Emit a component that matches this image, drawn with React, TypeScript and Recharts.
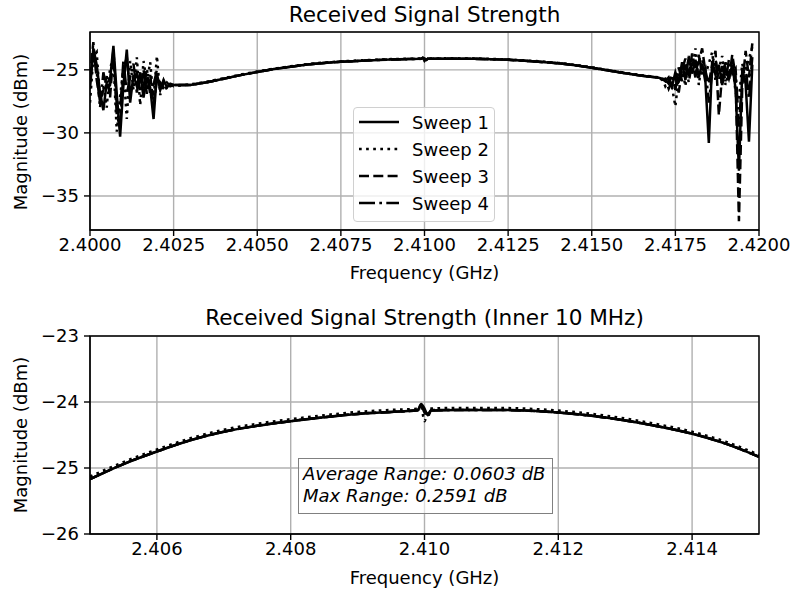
import { LineChart, Line, XAxis, YAxis, CartesianGrid, ReferenceArea } from "recharts";

// frequency grid (GHz): noisy band edges sampled finer than the smooth middle
const LEFT_FREQ = [
  2.4, 2.4001, 2.4002, 2.4003, 2.4004, 2.4005, 2.4006, 2.4007, 2.4008, 2.4009, 2.401, 2.4011, 2.4012,
  2.4013, 2.4014, 2.4015, 2.4016, 2.4017, 2.4018, 2.4019, 2.402, 2.4021, 2.4022, 2.4023, 2.4024, 2.4025,
];
const MID_A_FREQ = [
  2.403, 2.4035, 2.404, 2.4045, 2.405, 2.4055, 2.406, 2.4065, 2.407, 2.4075, 2.408, 2.4085, 2.409, 2.4095,
];
const GLITCH_FREQ = [2.4099, 2.40995, 2.41, 2.41005, 2.4101];
const MID_B_FREQ = [
  2.4105, 2.411, 2.4115, 2.412, 2.4125, 2.413, 2.4135, 2.414, 2.4145, 2.415, 2.4155, 2.416, 2.4165, 2.417,
];
const RIGHT_FREQ = [
  2.4171, 2.4172, 2.4173, 2.4174, 2.4175, 2.4176, 2.4177, 2.4178, 2.4179, 2.418, 2.4181, 2.4182, 2.4183,
  2.4184, 2.4185, 2.4186, 2.4187, 2.4188, 2.4189, 2.419, 2.4191, 2.4192, 2.4193, 2.4194, 2.4195, 2.4196,
  2.4197, 2.4198,
];

// magnitudes (dBm)
const LEFT_1 = [
  -26.5, -23.3, -24.6, -26.8, -28.2, -26.0, -25.8, -23.1, -26.9, -30.3, -26.2, -23.4, -27.6, -25.4, -26.3,
  -25.2, -27.2, -25.6, -26.4, -28.9, -25.3, -26.6, -25.8, -26.4, -26.1, -26.2,
];
const LEFT_2 = [
  -27.6, -24.0, -23.6, -27.4, -26.3, -28.0, -24.8, -24.2, -29.9, -27.1, -24.9, -28.9, -24.3, -26.6, -24.0,
  -27.8, -24.3, -26.0, -24.4, -27.4, -23.9, -27.0, -25.9, -26.6, -26.0, -26.3,
];
const LEFT_3 = [
  -25.6, -22.8, -25.8, -27.5, -26.6, -25.5, -27.2, -23.5, -28.6, -29.5, -25.0, -24.0, -26.8, -26.0, -25.3,
  -26.6, -25.0, -26.9, -25.4, -27.8, -25.8, -26.0, -26.4, -26.0, -26.3, -26.2,
];
const LEFT_4 = [
  -26.0, -23.8, -25.1, -28.0, -25.2, -26.6, -26.2, -23.4, -27.8, -28.3, -24.2, -26.9, -25.6, -24.5, -26.8,
  -25.6, -26.3, -24.9, -27.0, -26.2, -25.0, -26.5, -26.1, -26.3, -26.2, -26.2,
];

const MID_A = [-26.2, -25.98, -25.7, -25.42, -25.17, -24.94, -24.75, -24.58, -24.45, -24.36, -24.29, -24.23, -24.18, -24.15];
const MID_A_2 = [-26.15, -25.94, -25.66, -25.38, -25.13, -24.91, -24.72, -24.55, -24.42, -24.33, -24.26, -24.2, -24.15, -24.12];
const MID_B = [-24.12, -24.12, -24.13, -24.16, -24.21, -24.28, -24.37, -24.48, -24.63, -24.83, -25.05, -25.27, -25.46, -25.62];
const MID_B_2 = [-24.09, -24.09, -24.1, -24.13, -24.18, -24.25, -24.34, -24.45, -24.6, -24.8, -25.02, -25.24, -25.43, -25.6];

const GLITCH_1 = [-24.12, -24.03, -24.1, -24.2, -24.13];
const GLITCH_2 = [-24.1, -24.08, -24.29, -24.15, -24.1];
const GLITCH_3 = [-24.13, -24.06, -24.16, -24.22, -24.12];
const GLITCH_4 = [-24.12, -24.05, -24.12, -24.18, -24.13];

const RIGHT_1 = [
  -25.7, -25.9, -25.6, -26.3, -25.2, -26.0, -24.4, -25.8, -24.0, -25.3, -24.2, -25.6, -24.5, -26.0, -30.8,
  -24.3, -25.4, -24.6, -26.2, -24.9, -25.7, -24.6, -26.5, -33.0, -25.0, -26.1, -30.7, -24.6,
];
const RIGHT_2 = [
  -25.6, -26.3, -25.9, -26.4, -27.9, -25.5, -24.9, -26.3, -23.9, -25.0, -23.3, -26.2, -24.2, -25.4, -24.5,
  -23.6, -25.9, -24.9, -23.9, -26.2, -25.1, -24.4, -26.8, -27.3, -24.5, -25.9, -24.1, -23.2,
];
const RIGHT_3 = [
  -25.8, -25.7, -26.5, -25.9, -25.6, -26.8, -25.0, -24.1, -25.6, -23.7, -25.0, -24.4, -23.3, -25.2, -26.1,
  -24.6, -23.5, -28.6, -25.3, -24.4, -25.9, -23.8, -25.5, -37.0, -26.3, -23.5, -25.6, -22.9,
];
const RIGHT_4 = [
  -25.7, -25.8, -26.1, -25.4, -26.6, -24.8, -25.9, -24.6, -26.0, -24.3, -25.6, -23.8, -25.4, -24.9, -27.6,
  -25.2, -24.2, -25.8, -24.7, -25.9, -24.2, -25.3, -24.9, -29.5, -25.4, -24.7, -27.3, -24.0,
];

const FREQ = [...LEFT_FREQ, ...MID_A_FREQ, ...GLITCH_FREQ, ...MID_B_FREQ, ...RIGHT_FREQ];
const SWEEP_1 = [...LEFT_1, ...MID_A, ...GLITCH_1, ...MID_B, ...RIGHT_1];
const SWEEP_2 = [...LEFT_2, ...MID_A_2, ...GLITCH_2, ...MID_B_2, ...RIGHT_2];
const SWEEP_3 = [...LEFT_3, ...MID_A, ...GLITCH_3, ...MID_B, ...RIGHT_3];
const SWEEP_4 = [...LEFT_4, ...MID_A, ...GLITCH_4, ...MID_B, ...RIGHT_4];

const TOP_X_TICKS = [2.4, 2.4025, 2.405, 2.4075, 2.41, 2.4125, 2.415, 2.4175, 2.42];
const TOP_Y_TICKS = [-35, -30, -25];
const BOT_X_TICKS = [2.406, 2.408, 2.41, 2.412, 2.414];
const BOT_Y_TICKS = [-26, -25, -24, -23];

const SWEEPS = [
  { key: "s1", name: "Sweep 1", dash: undefined },
  { key: "s2", name: "Sweep 2", dash: "2.7 4.4" },
  { key: "s3", name: "Sweep 3", dash: "10 4.3" },
  { key: "s4", name: "Sweep 4", dash: "16 4.3 2.7 4.3" },
];

const rows = FREQ.map((f, i) => ({ f, s1: SWEEP_1[i], s2: SWEEP_2[i], s3: SWEEP_3[i], s4: SWEEP_4[i] }));
const innerRows = rows.filter((r) => r.f >= 2.405 - 1e-9 && r.f <= 2.415 + 1e-9);

const FONT = "'DejaVu Sans', sans-serif";
const TICK = { fill: "#000", fontSize: 18, fontFamily: FONT };
const minus = (v: number) => String(v).replace("-", "\u2212");

function Text({ x, y, size, children, rotate }: { x: number; y: number; size: number; children: string; rotate?: boolean }) {
  return (
    <div
      style={{
        position: "absolute",
        left: x,
        top: y,
        transform: `translate(-50%, -50%)${rotate ? " rotate(-90deg)" : ""}`,
        fontSize: size,
        whiteSpace: "nowrap",
        lineHeight: 1,
        color: "#000",
      }}
    >
      {children}
    </div>
  );
}

function Panel({
  data,
  xDomain,
  yDomain,
  xTicks,
  yTicks,
  xFmt,
  curve,
}: {
  data: typeof rows;
  xDomain: [number, number];
  yDomain: [number, number];
  xTicks: number[];
  yTicks: number[];
  xFmt: (v: number) => string;
  curve: "linear" | "monotone";
}) {
  return (
    <LineChart width={791} height={300} data={data} margin={{ top: 32, right: 32, bottom: 20, left: 10 }}>
      <CartesianGrid stroke="#b0b0b0" strokeWidth={1.4} />
      <XAxis
        dataKey="f"
        type="number"
        domain={xDomain}
        ticks={xTicks}
        interval={0}
        allowDataOverflow
        tickFormatter={xFmt}
        tick={TICK}
        tickSize={6}
        tickMargin={2}
        height={50}
        stroke="#000"
        tickLine={{ stroke: "#000", strokeWidth: 1.4 }}
      />
      <YAxis
        type="number"
        domain={yDomain}
        ticks={yTicks}
        interval={0}
        allowDataOverflow
        tickFormatter={minus}
        tick={TICK}
        tickSize={6}
        tickMargin={5}
        width={80}
        stroke="#000"
        tickLine={{ stroke: "#000", strokeWidth: 1.4 }}
      />
      <ReferenceArea
        x1={xDomain[0]}
        x2={xDomain[1]}
        y1={yDomain[0]}
        y2={yDomain[1]}
        fill="none"
        fillOpacity={0}
        stroke="#000"
        strokeWidth={1.4}
        strokeOpacity={1}
      />
      {SWEEPS.map((s) => (
        <Line
          key={s.key}
          type={curve}
          dataKey={s.key}
          stroke="#000"
          strokeWidth={2.5}
          strokeDasharray={s.dash}
          dot={false}
          isAnimationActive={false}
        />
      ))}
    </LineChart>
  );
}

export default function App() {
  return (
    <div
      style={{
        position: "absolute",
        left: 0,
        top: 0,
        width: 791,
        height: 596,
        background: "#fff",
        fontFamily: FONT,
        overflow: "hidden",
      }}
    >
      <div style={{ position: "absolute", left: 0, top: 0 }}>
        <Panel
          data={rows}
          xDomain={[2.4, 2.42]}
          yDomain={[-37.7, -22.0]}
          xTicks={TOP_X_TICKS}
          yTicks={TOP_Y_TICKS}
          xFmt={(v) => v.toFixed(4)}
          curve="linear"
        />
      </div>
      <div style={{ position: "absolute", left: 0, top: 304 }}>
        <Panel
          data={innerRows}
          xDomain={[2.405, 2.415]}
          yDomain={[-26, -23]}
          xTicks={BOT_X_TICKS}
          yTicks={BOT_Y_TICKS}
          xFmt={(v) => v.toFixed(3)}
          curve="monotone"
        />
      </div>

      <Text x={424.5} y={15} size={21.6}>Received Signal Strength</Text>
      <Text x={424.5} y={318} size={21.6}>Received Signal Strength (Inner 10 MHz)</Text>
      <Text x={424.5} y={273} size={18}>Frequency (GHz)</Text>
      <Text x={424.5} y={578} size={18}>Frequency (GHz)</Text>
      <Text x={21} y={132} size={18} rotate>Magnitude (dBm)</Text>
      <Text x={21} y={435} size={18} rotate>Magnitude (dBm)</Text>

      {/* legend */}
      <div
        style={{
          position: "absolute",
          left: 353,
          top: 107,
          width: 140,
          height: 113,
          border: "1px solid #d0d0d0",
          borderRadius: 4,
          background: "rgba(255,255,255,0.8)",
        }}
      >
        {SWEEPS.map((s, i) => (
          <div key={s.key} style={{ position: "absolute", left: 4, top: 3 + i * 27, height: 22, display: "flex", alignItems: "center" }}>
            <svg width={42} height={22} style={{ display: "block" }}>
              <line x1={1} y1={11} x2={41} y2={11} stroke="#000" strokeWidth={2.5} strokeDasharray={s.dash} />
            </svg>
            <span style={{ marginLeft: 12, fontSize: 18, color: "#000" }}>{s.name}</span>
          </div>
        ))}
      </div>

      {/* range annotation */}
      <div
        style={{
          position: "absolute",
          left: 298,
          top: 458,
          width: 249,
          height: 50,
          border: "1px solid #808080",
          background: "rgba(255,255,255,0.6)",
          fontStyle: "italic",
          fontSize: 18,
          lineHeight: "21.6px",
          padding: "4px 0 0 4px",
          color: "#000",
        }}
      >
        <div>Average Range: 0.0603 dB</div>
        <div>Max Range: 0.2591 dB</div>
      </div>
    </div>
  );
}
